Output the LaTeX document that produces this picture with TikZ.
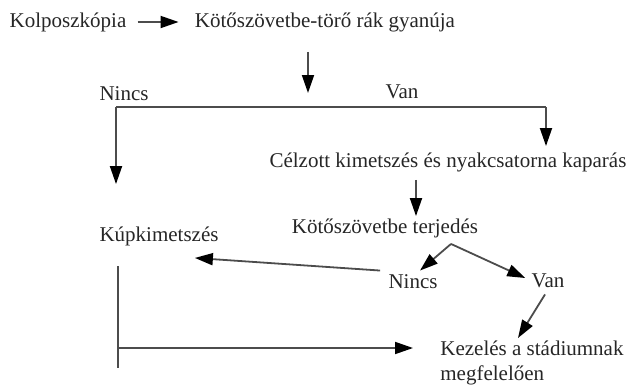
\documentclass[tikz,border=0pt]{standalone}
\usepackage{fontspec}
\setmainfont{Liberation Serif}
\usetikzlibrary{arrows.meta, calc}

\tikzset{
    lbl/.style={inner sep=1pt, text=black!85, font=\fontsize{10.5}{12.5}\selectfont},
    ln/.style={draw=black!70, line width=0.9pt},
    arr/.style={ln, -{Triangle[length=9pt, width=6pt, color=black]}}
}

\begin{document}
\begin{tikzpicture}[x=0.5pt, y=-0.5pt]

    % --- Frame (pixel units, y downwards) ---
    \useasboundingbox (0,0) rectangle (627,386);

    % --- Top row ---
    \node[lbl] (kolp) at (68,22) {Kolposzkópia};
    \node[lbl] (gyan) at (325,22) {Kötőszövetbe-törő rák gyanúja};
    \draw[arr] ($(kolp.east)+(9,0)$) -- ($(gyan.west)+(-14,0)$);

    % --- Split into Nincs / Van ---
    \coordinate (split) at (308,107);
    \coordinate (bl) at (116,107);
    \coordinate (br) at (546,107);
    \draw[arr] (gyan.south -| split) ++(0,18) -- ($(split)+(0,-14)$);
    \draw[ln] (bl) -- (br);
    \node[lbl] (nincs1) at (124,94) {Nincs};
    \node[lbl] (van1) at (402,92) {Van};

    % --- Left branch ---
    \node[lbl] (kup) at (159,236) {Kúpkimetszés};
    \draw[arr] (bl) -- ($(bl |- kup.north)+(0,-40)$);

    % --- Right branch ---
    \node[lbl] (celz) at (448,162) {Célzott kimetszés és nyakcsatorna kaparás};
    \draw[arr] (br) -- ($(br |- celz.north)+(0,-4)$);

    \node[lbl] (terj) at (385,228) {Kötőszövetbe terjedés};
    \draw[arr] ($(celz.south -| terj.north)+(31,6)$) -- ($(terj.north)+(31,0)$);

    % --- Fork under terjedés ---
    \coordinate (fork) at ($(terj.south)+(66,4)$);
    \node[lbl] (nincs2) at (413,282) {Nincs};
    \node[lbl] (van2) at (548,281) {Van};
    \draw[arr] (fork) -- ($(nincs2.north)+(7,-2)$);
    \draw[arr] (fork) -- ($(van2.west)+(-4,-3)$);
    \draw[arr] ($(nincs2.north west)+(-6,-2)$) -- ($(kup.south east)+(-26,10)$);

    % --- Bottom ---
    \node[lbl, align=left, anchor=north west] (kez) at (438,338) {Kezelés a stádiumnak\\megfelelően};
    \draw[arr] ($(van2.south)+(-3,4)$) -- ($(kez.north west)+(80,0)$);

    \coordinate (bartop) at (118,266);
    \coordinate (barbot) at (118,368);
    \coordinate (barmid) at (118,348);
    \draw[ln] (bartop) -- (barbot);
    \draw[arr] (barmid) -- ($(barmid -| kez.west)+(-25,0)$);

\end{tikzpicture}
\end{document}
